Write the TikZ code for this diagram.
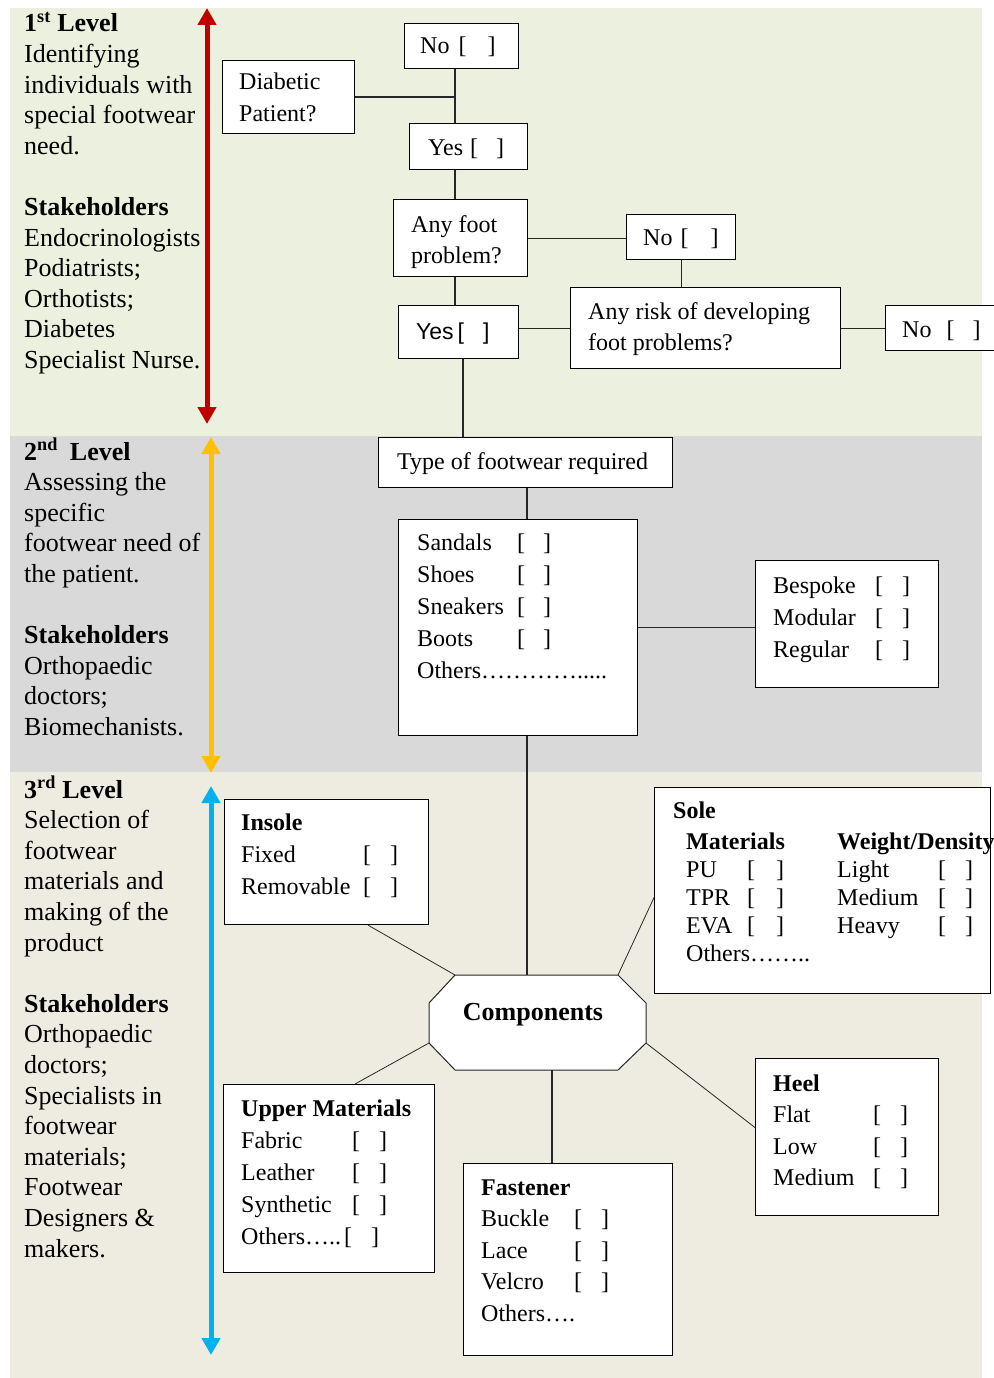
\documentclass[tikz,border=0pt]{standalone}
\usepackage{fontspec}
\setmainfont{Liberation Serif}
\newfontfamily\sansf{Liberation Sans}
\usetikzlibrary{arrows.meta}
\definecolor{bandA}{HTML}{EBF1DE}
\definecolor{bandB}{HTML}{D9D9D9}
\definecolor{bandC}{HTML}{EEECE1}
\definecolor{arrRed}{HTML}{C00000}
\definecolor{arrOrg}{HTML}{FFC000}
\definecolor{arrBlu}{HTML}{00B0F0}
\newcommand{\fsz}[2]{\fontsize{#1}{#2}\selectfont}
\newcommand{\bxx}[1][19pt]{[\hspace{#1}]}
\tikzset{
  bx/.style={draw=black, fill=white, line width=1.1pt, inner sep=0pt, anchor=north west},
  txt/.style={inner sep=0pt, anchor=base west, font=\fsz{24}{32}},
  lvl/.style={inner sep=0pt, anchor=base west, font=\fsz{26}{30.6}},
  conn/.style={draw=black!85, line width=1.1pt},
  thinconn/.style={draw=black!85, line width=0.8pt},
  dblarrow/.style={line width=5pt, {Triangle[width=18pt,length=17pt]}-{Triangle[width=18pt,length=17pt]}},
}
\begin{document}
\begin{tikzpicture}[x=1pt,y=-1pt]
\useasboundingbox (0,0) rectangle (993,1378);
\fill[white] (0,0) rectangle (993,1378);
% bands
\fill[bandA] (10,8) rectangle (982,436);
\fill[bandB] (10,436) rectangle (982,772);
\fill[bandC] (10,772) rectangle (982,1378);
% level arrows
\coordinate (rA) at (207,8);   \coordinate (rB) at (207,424);
\coordinate (oA) at (211,437); \coordinate (oB) at (211,773);
\coordinate (bA) at (211,786); \coordinate (bB) at (211,1355);
\draw[dblarrow, arrRed] (rA) -- (rB);
\draw[dblarrow, arrOrg] (oA) -- (oB);
\draw[dblarrow, arrBlu] (bA) -- (bB);
% level texts
\node[lvl] (L1) at (24,32) {\begin{tabular}[t]{@{}l@{}}\textbf{1\textsuperscript{st} Level}\\ Identifying\\ individuals with\\ special footwear\\ need.\\ \\ \textbf{Stakeholders}\\ Endocrinologists\\ Podiatrists;\\ Orthotists;\\ Diabetes\\ Specialist Nurse.\end{tabular}};
\node[lvl] (L2) at (24,460) {\begin{tabular}[t]{@{}l@{}}\textbf{2\textsuperscript{nd}\hspace{12pt}Level}\\ Assessing the\\ specific\\ footwear need of\\ the patient.\\ \\ \textbf{Stakeholders}\\ Orthopaedic\\ doctors;\\ Biomechanists.\end{tabular}};
\node[lvl] (L3) at (24,798) {\begin{tabular}[t]{@{}l@{}}\textbf{3\textsuperscript{rd} Level}\\ Selection of\\ footwear\\ materials and\\ making of the\\ product\\ \\ \textbf{Stakeholders}\\ Orthopaedic\\ doctors;\\ Specialists in\\ footwear\\ materials;\\ Footwear\\ Designers \&\\ makers.\end{tabular}};
% spine coordinates
\coordinate (sp) at (455,0);
\coordinate (sp2) at (463,0);
\coordinate (sp3) at (527,0);
% boxes
\node[bx, minimum width=114pt, minimum height=45pt] (noT) at (404,23) {};
\node[bx, minimum width=132pt, minimum height=73pt] (diab) at (222,60) {};
\node[bx, minimum width=118pt, minimum height=46pt] (yesT) at (409,123) {};
\node[bx, minimum width=134pt, minimum height=77pt] (foot) at (393,199) {};
\node[bx, minimum width=109pt, minimum height=45pt] (noM) at (626,214) {};
\node[bx, minimum width=120pt, minimum height=53pt] (yesL) at (398,305) {};
\node[bx, minimum width=270pt, minimum height=81pt] (risk) at (570,287) {};
\node[bx, minimum width=115pt, minimum height=45pt] (noR) at (885,305) {};
\node[bx, minimum width=294pt, minimum height=50pt] (type) at (378,437) {};
\node[bx, minimum width=239pt, minimum height=216pt] (list) at (398,519) {};
\node[bx, minimum width=183pt, minimum height=127pt] (besp) at (755,560) {};
\node[bx, minimum width=204pt, minimum height=125pt] (insole) at (224,799) {};
\node[bx, minimum width=336pt, minimum height=206pt] (sole) at (654,787) {};
\node[bx, minimum width=211pt, minimum height=188pt] (upper) at (223,1084) {};
\node[bx, minimum width=209pt, minimum height=192pt] (fast) at (463,1163) {};
\node[bx, minimum width=183pt, minimum height=157pt] (heel) at (755,1058) {};
% octagon
\coordinate (oTL) at (455,975); \coordinate (oTR) at (618,975);
\coordinate (oR1) at (646,1003); \coordinate (oBR) at (646,1043);
\coordinate (oB2) at (618,1070); \coordinate (oB1) at (455,1070);
\coordinate (oBL) at (429,1043); \coordinate (oL1) at (429,1003);
\filldraw[fill=white, draw=black!85, line width=1pt] (oTL) -- (oTR) -- (oR1) -- (oBR) -- (oB2) -- (oB1) -- (oBL) -- (oL1) -- cycle;
\node[font=\bfseries\fsz{26}{30}, inner sep=0pt] (comp) at (533,1015) {Components};
% connectors level 1
\draw[conn] (noT.south -| sp) -- (yesT.north -| sp);
\draw[conn] (diab.east) -- (diab.east -| sp);
\draw[conn] (yesT.south -| sp) -- (foot.north -| sp);
\draw[conn] (foot.south -| sp) -- (yesL.north -| sp);
\draw[conn] (foot.east) -- (foot.east -| noM.west);
\draw[conn] (noM.south) -- (noM.south |- risk.north);
\draw[conn] (risk.west -| yesL.east) -- (risk.west);
\draw[conn] (risk.east) -- (risk.east -| noR.west);
\draw[conn] (yesL.south -| sp2) -- (type.north -| sp2);
% level 2
\draw[conn] (type.south -| sp3) -- (list.north -| sp3);
\draw[conn] (list.east) -- (list.east -| besp.west);
\draw[conn] (list.south -| sp3) -- (oTL -| sp3);
% level 3
\coordinate (fTop) at ([xshift=89pt]fast.north west);
\draw[thinconn] ([xshift=144pt]insole.south west) -- (oTL);
\draw[thinconn] (oTR) -- ([yshift=-7pt]sole.west);
\draw[thinconn] (oBL) -- ([xshift=132pt]upper.north west);
\draw[thinconn] (oBR) -- ([yshift=9.5pt]heel.west);
\draw[conn] (fTop) -- (fTop |- oB2);
% texts level 1
\node[txt] (tNoT) at (420,54) {No\hspace{9pt}[\hspace{21pt}]};
\node[txt] (tDiab) at (239,90) {\begin{tabular}[t]{@{}l@{}}Diabetic\\ Patient?\end{tabular}};
\node[txt] (tYesT) at (428,155) {Yes\hspace{7pt}[\hspace{18pt}]};
\node[txt, font=\fsz{24}{31}] (tFoot) at (411,232) {\begin{tabular}[t]{@{}l@{}}Any foot\\ problem?\end{tabular}};
\node[txt] (tNoM) at (643,245) {No\hspace{8pt}[\hspace{22pt}]};
\node[txt, font=\sansf\fsz{23}{30}] (tYesL) at (416,339) {Yes\hspace{4pt}[\hspace{19pt}]};
\node[txt, font=\fsz{24}{31}] (tRisk) at (588,319) {\begin{tabular}[t]{@{}l@{}}Any risk of developing\\ foot problems?\end{tabular}};
\node[txt] (tNoR) at (902,337) {No\hspace{15pt}[\hspace{18pt}]};
% texts level 2
\node[txt] (tType) at (397,469) {Type of footwear required};
\node[txt] (tList) at (417,550) {\begin{tabular}[t]{@{}p{100pt}@{}l@{}}Sandals & \bxx[18pt]\\ Shoes & \bxx[18pt]\\ Sneakers & \bxx[18pt]\\ Boots & \bxx[18pt]\\ \multicolumn{2}{@{}l@{}}{Others………….....}\end{tabular}};
\node[txt] (tBesp) at (773,593) {\begin{tabular}[t]{@{}p{102pt}@{}l@{}}Bespoke & \bxx\\ Modular & \bxx\\ Regular & \bxx\end{tabular}};
% texts level 3
\node[txt] (tIns) at (241,830) {\begin{tabular}[t]{@{}p{122pt}@{}l@{}}\textbf{Insole} & \\ Fixed & \bxx\\ Removable & \bxx\end{tabular}};
\node[txt] (tSoleH) at (673,818) {\textbf{Sole}};
\node[txt, font=\fsz{24}{28}] (tSole) at (686,849) {\begin{tabular}[t]{@{}p{61pt}@{}p{90pt}@{}p{101pt}@{}l@{}}\multicolumn{2}{@{}p{151pt}@{}}{\textbf{Materials}} & \multicolumn{2}{@{}l@{}}{\textbf{Weight/Density}}\\ PU & \bxx[21pt] & Light & \bxx\\ TPR & \bxx[21pt] & Medium & \bxx\\ EVA & \bxx[21pt] & Heavy & \bxx\\ \multicolumn{2}{@{}l@{}}{Others……..} & & \end{tabular}};
\node[txt] (tUp) at (241,1116) {\begin{tabular}[t]{@{}p{111pt}@{}l@{}}\multicolumn{2}{@{}l@{}}{\textbf{Upper Materials}}\\ Fabric & \bxx\\ Leather & \bxx\\ Synthetic & \bxx\\ \multicolumn{2}{@{}l@{}}{Others…..\hspace{3pt}\bxx}\end{tabular}};
\node[txt, font=\fsz{24}{31.5}] (tFast) at (481,1195) {\begin{tabular}[t]{@{}p{93pt}@{}l@{}}\textbf{Fastener} & \\ Buckle & \bxx\\ Lace & \bxx\\ Velcro & \bxx\\ \multicolumn{2}{@{}l@{}}{Others….}\end{tabular}};
\node[txt, font=\fsz{24}{31.5}] (tHeel) at (773,1091) {\begin{tabular}[t]{@{}p{100pt}@{}l@{}}\textbf{Heel} & \\ Flat & \bxx\\ Low & \bxx\\ Medium & \bxx\end{tabular}};
\end{tikzpicture}
\end{document}
